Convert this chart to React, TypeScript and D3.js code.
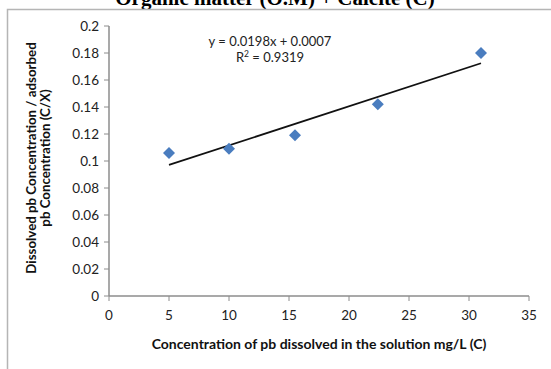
import React from 'react';
import * as d3 from 'd3';

const concentration = [5, 10, 15.5, 22.4, 31];
const ratio = [0.106, 0.109, 0.119, 0.142, 0.18];
const xTicks = [0, 5, 10, 15, 20, 25, 30, 35];
const yTicks = [0, 0.02, 0.04, 0.06, 0.08, 0.1, 0.12, 0.14, 0.16, 0.18, 0.2];
const equationText = 'y = 0.0198x + 0.0007';
const r2Value = '0.9319';

const width = 551;
const height = 369;
const font = 'Lato, "Open Sans", sans-serif';
const axisColor = '#8c8c8c';

export default function App() {
  const x = d3.scaleLinear().domain([0, 35]).range([109, 529]);
  const y = d3.scaleLinear().domain([0, 0.2]).range([296, 26]);

  // least squares trendline through the points
  const mx = d3.mean(concentration) as number;
  const my = d3.mean(ratio) as number;
  const sxy = d3.sum(concentration, (c, i) => (c - mx) * (ratio[i] - my));
  const sxx = d3.sum(concentration, (c) => (c - mx) * (c - mx));
  const slope = sxy / sxx;
  const icpt = my - slope * mx;
  const xMin = d3.min(concentration) as number;
  const xMax = d3.max(concentration) as number;
  const trend = d3.line<number>()
    .x((d) => x(d))
    .y((d) => y(slope * d + icpt))([xMin, xMax]);

  const diamond = d3.symbol().type(d3.symbolSquare).size(72)();
  const fmtY = (v: number) => (v === 0 ? '0' : String(+v.toFixed(2)));

  return (
    <svg width={width} height={height} style={{ position: 'absolute', left: 0, top: 0, background: '#fff' }}>
      <text x={275} y={5} textAnchor="middle" fontFamily='"Liberation Serif", serif'
        fontWeight="bold" fontSize={21}>Organic matter (O.M) + Calcite (C)</text>
      <path d={`M7.5,${height} V9.5 H${width}`} fill="none" stroke="#b5b5b5" strokeWidth={1.5} />

      {/* y axis */}
      <line x1={x(0)} x2={x(0)} y1={y(0.2)} y2={y(0)} stroke={axisColor} strokeWidth={1.5} />
      {yTicks.map((t) => (
        <g key={'y' + t}>
          <line x1={x(0) - 5} x2={x(0)} y1={y(t)} y2={y(t)} stroke={axisColor} />
          <text x={x(0) - 10} y={y(t)} dy="0.35em" textAnchor="end" fontFamily={font} fontSize={13.5} fill="#222">{fmtY(t)}</text>
        </g>
      ))}

      {/* x axis */}
      <line x1={x(0)} x2={x(35)} y1={y(0)} y2={y(0)} stroke={axisColor} strokeWidth={1.5} />
      {xTicks.map((t) => (
        <g key={'x' + t}>
          <line x1={x(t)} x2={x(t)} y1={y(0)} y2={y(0) + 5} stroke={axisColor} />
          <text x={x(t)} y={y(0) + 24} textAnchor="middle" fontFamily={font} fontSize={13.5} fill="#222">{t}</text>
        </g>
      ))}

      <text x={319} y={349} textAnchor="middle" fontFamily={font} fontWeight="bold" fontSize={14} fill="#111">
        Concentration of pb dissolved in the solution mg/L (C)
      </text>
      <g transform={`translate(36,${(y(0) + y(0.2)) / 2 - 3}) rotate(-90)`}>
        <text x={0} y={0} textAnchor="middle" fontFamily={font} fontWeight="bold" fontSize={13.3} fill="#111">
          Dissolved pb Concentration / adsorbed
        </text>
        <text x={0} y={14} textAnchor="middle" fontFamily={font} fontWeight="bold" fontSize={13.3} fill="#111">
          pb Concentration (C/X)
        </text>
      </g>

      {trend && <path d={trend} stroke="#111" strokeWidth={1.8} fill="none" />}

      {concentration.map((c, i) => (
        <path key={'p' + i} d={diamond as string} fill="#4a7dbf"
          transform={`translate(${x(c)},${y(ratio[i])}) rotate(45)`} />
      ))}

      <text x={270} y={46} textAnchor="middle" fontFamily={font} fontSize={13} fill="#222">{equationText}</text>
      <text x={270} y={62} textAnchor="middle" fontFamily={font} fontSize={13} fill="#222">
        R<tspan dy={-5} fontSize={8.5}>2</tspan><tspan dy={5}> = {r2Value}</tspan>
      </text>
    </svg>
  );
}
